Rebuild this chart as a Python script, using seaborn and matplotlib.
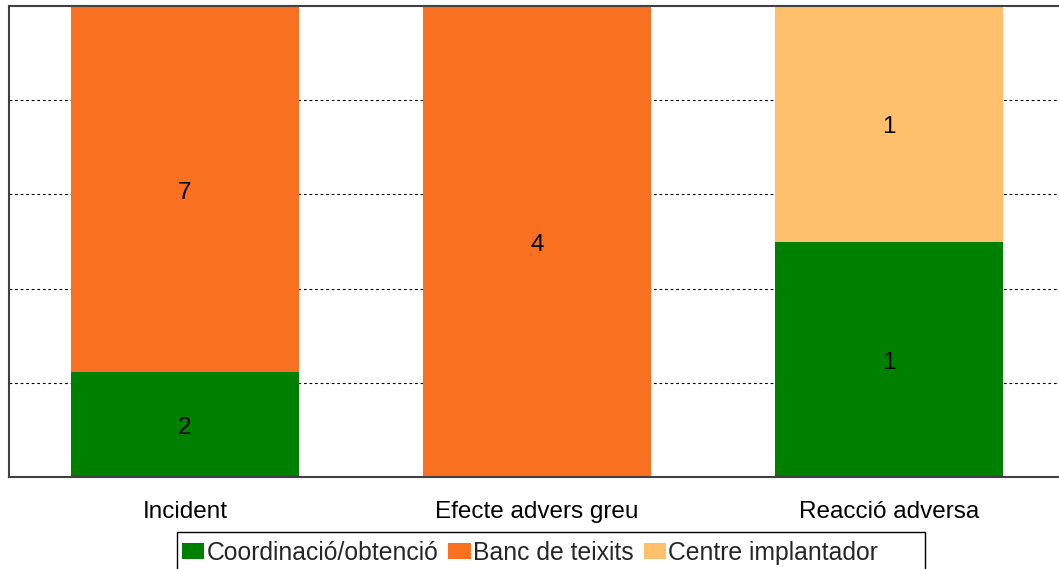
import matplotlib
matplotlib.use("Agg")
import matplotlib.pyplot as plt
import seaborn as sns
import pandas as pd
import numpy as np
from matplotlib.patches import Patch, Rectangle

categories = ["Incident", "Efecte advers greu", "Reacció adversa"]
series_names = ["Coordinació/obtenció", "Banc de teixits", "Centre implantador"]
coordinacio = [2, 0, 1]
banc = [7, 4, 0]
centre = [0, 0, 1]
colors = ["#008000", "#F97021", "#FFC06B"]

sns.set_theme(style="white")
plt.rcParams["font.family"] = ["Liberation Sans", "DejaVu Sans"]

FS = 17.5

counts = np.array([coordinacio, banc, centre], dtype=float)
totals = counts.sum(axis=0)
fracs = counts / totals
cum = np.cumsum(fracs, axis=0)

fig = plt.figure(figsize=(10.59, 5.69), dpi=100)
W, H = 1059, 569
ax = fig.add_axes([9 / W, (H - 477) / H, 1056 / W, (477 - 6) / H])

# draw cumulative tops, from the top series down
for i in range(len(series_names) - 1, -1, -1):
    df = pd.DataFrame({"cat": categories, "val": cum[i]})
    sns.barplot(data=df, x="cat", y="val", color=colors[i], width=0.65,
                saturation=1, ax=ax, zorder=2, edgecolor="none", linewidth=0)

# labels
for i in range(len(series_names)):
    for j in range(len(categories)):
        if counts[i, j] > 0:
            ymid = cum[i, j] - fracs[i, j] / 2
            ax.annotate(f"{int(counts[i, j])}", xy=(j, ymid), xytext=(0, -2.5),
                        textcoords="offset points", ha="center", va="center",
                        fontsize=FS, color="black", zorder=3)

ax.set_ylim(0, 1)
ax.set_xlim(-0.5, 2.5)
ax.set_yticks([0.2, 0.4, 0.6, 0.8])
ax.yaxis.grid(True, linestyle=(0, (2.5, 2.5)), color="black", linewidth=0.8, zorder=0)
ax.set_axisbelow(True)
ax.tick_params(axis="y", left=False, labelleft=False)
ax.tick_params(axis="x", bottom=False, labelsize=FS, pad=11, colors="black")
ax.set_xlabel("")
ax.set_ylabel("")
for s in ["left", "top", "bottom"]:
    ax.spines[s].set_visible(True)
    ax.spines[s].set_color("#404040")
    ax.spines[s].set_linewidth(1.5)
ax.spines["right"].set_visible(False)

# legend frame (drawn separately to match the asymmetric box)
frame = Rectangle((176.5 / W, -10 / H), (925 - 176.5) / W, (H - 532 + 10) / H,
                  transform=fig.transFigure, facecolor="white",
                  edgecolor="black", linewidth=1.0, zorder=1)
fig.patches.append(frame)

handles = [Patch(facecolor=c, edgecolor="none") for c in colors]
leg = fig.legend(handles, series_names, loc="upper left",
                 bbox_to_anchor=(182 / W, 1 - 541 / H), ncol=3,
                 fontsize=17.8, frameon=False,
                 handlelength=0.9, handleheight=0.6, handletextpad=0.1,
                 columnspacing=0.4, borderpad=0, borderaxespad=0)
leg.set_zorder(3)

fig.savefig("out.png", dpi=100)
